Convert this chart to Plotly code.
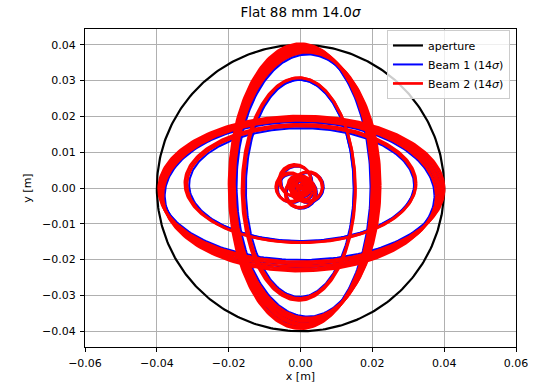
import numpy as np
import plotly.graph_objects as go

# Aperture radius [m]
aperture_radius = 0.04

# Beam envelopes at 14 sigma, one ellipse per row: (x centre, y centre, half-width, half-height) [m]
beam2_ellipses = [
    # large horizontal envelope
    (0.00025, -0.00025, 0.03975, 0.02035),
    (0.00015, -0.0007, 0.0393, 0.0205),
    (0.0000, -0.0012, 0.0389, 0.0207),
    (-0.0001, -0.0017, 0.0385, 0.0209),
    (-0.00025, -0.00215, 0.03805, 0.02105),
    # inner horizontal envelope
    (0.0000, 0.0013, 0.0322, 0.0165),
    (0.0002, 0.0010, 0.0318, 0.0163),
    # large vertical envelope
    (0.0000, 0.0005, 0.0199, 0.0398),
    (0.0003, 0.0005, 0.0200, 0.0394),
    (0.0007, 0.0006, 0.0200, 0.0389),
    (0.0010, 0.0006, 0.0201, 0.0385),
    (0.0013, 0.0007, 0.0202, 0.0380),
    (0.0016, 0.0007, 0.0203, 0.0376),
    (0.0019, 0.0008, 0.0203, 0.0371),
    # inner vertical envelope
    (-0.0005, -0.0003, 0.0158, 0.0311),
    (-0.0003, 0.0000, 0.0155, 0.0308),
    # small envelopes near the centre
    (-0.0016, 0.0022, 0.0044, 0.0044),
    (-0.0013, 0.0019, 0.0043, 0.0043),
    (0.0021, 0.0005, 0.0041, 0.0041),
    (0.0018, 0.0002, 0.0042, 0.0042),
    (-0.0002, -0.0015, 0.0041, 0.0041),
    (0.0001, -0.0012, 0.0042, 0.0042),
    (-0.0029, 0.0003, 0.0040, 0.0040),
    (-0.0026, 0.0000, 0.0040, 0.0040),
    (0.0000, 0.0000, 0.0020, 0.0020),
    (-0.0010, 0.0010, 0.0025, 0.0025),
    (0.0010, -0.0010, 0.0022, 0.0022),
    (0.0005, 0.0012, 0.0015, 0.0015),
    (-0.0008, -0.0012, 0.0018, 0.0018),
    (-0.0015, -0.0005, 0.0012, 0.0012),
    (0.0012, 0.0008, 0.0010, 0.0010),
    (0.0000, 0.0005, 0.0030, 0.0030),
]

beam1_ellipses = [
    (0.00025, -0.00025, 0.03925, 0.01985),
    (0.00015, -0.0007, 0.0388, 0.0200),
    (0.0000, -0.0012, 0.0384, 0.0202),
    (-0.0001, -0.0017, 0.0380, 0.0204),
    (-0.00025, -0.00215, 0.03755, 0.02055),
    (0.0001, 0.0012, 0.0317, 0.0160),
    (0.0003, 0.0009, 0.0313, 0.0158),
    (0.0001, 0.0004, 0.0194, 0.0393),
    (0.0004, 0.0004, 0.0195, 0.0389),
    (0.0008, 0.0005, 0.0195, 0.0384),
    (0.0011, 0.0005, 0.0196, 0.0380),
    (0.0014, 0.0006, 0.0197, 0.0375),
    (0.0017, 0.0006, 0.0198, 0.0371),
    (0.0020, 0.0007, 0.0198, 0.0366),
    (-0.0004, -0.0004, 0.0153, 0.0306),
    (-0.0002, -0.0001, 0.0150, 0.0303),
    (-0.0013, 0.0020, 0.0044, 0.0044),
    (-0.0010, 0.0017, 0.0043, 0.0043),
    (0.0024, 0.0003, 0.0041, 0.0041),
    (0.0021, 0.0000, 0.0042, 0.0042),
    (0.0001, -0.0017, 0.0041, 0.0041),
    (0.0004, -0.0014, 0.0042, 0.0042),
    (-0.0026, 0.0001, 0.0040, 0.0040),
    (-0.0023, -0.0002, 0.0040, 0.0040),
    (0.0003, -0.0002, 0.0020, 0.0020),
    (-0.0007, 0.0008, 0.0025, 0.0025),
    (0.0013, -0.0012, 0.0022, 0.0022),
    (0.0008, 0.0010, 0.0015, 0.0015),
    (-0.0005, -0.0014, 0.0018, 0.0018),
    (-0.0012, -0.0007, 0.0012, 0.0012),
    (0.0015, 0.0006, 0.0010, 0.0010),
    (0.0003, 0.0003, 0.0030, 0.0030),
]

x_ticks = [-0.06, -0.04, -0.02, 0.0, 0.02, 0.04, 0.06]
y_ticks = [-0.04, -0.03, -0.02, -0.01, 0.0, 0.01, 0.02, 0.03, 0.04]


def tick_text(values):
    return [f"{v:.2f}".replace("-", "\u2212") for v in values]


def ellipse_path(ellipses, n=240):
    t = np.linspace(0, 2 * np.pi, n)
    xs, ys = [], []
    for cx, cy, a, b in ellipses:
        xs += list(cx + a * np.cos(t)) + [None]
        ys += list(cy + b * np.sin(t)) + [None]
    return xs, ys


FONT = "DejaVu Sans"

fig = go.Figure()

tt = np.linspace(0, 2 * np.pi, 361)
fig.add_trace(go.Scatter(
    x=aperture_radius * np.cos(tt), y=aperture_radius * np.sin(tt),
    mode="lines", line=dict(color="black", width=2.2), name="aperture",
))

bx, by = ellipse_path(beam1_ellipses)
fig.add_trace(go.Scatter(
    x=bx, y=by, mode="lines", line=dict(color="blue", width=2),
    name="Beam 1 (14<i>σ</i>)", connectgaps=False,
))

rx, ry = ellipse_path(beam2_ellipses)
fig.add_trace(go.Scatter(
    x=rx, y=ry, mode="lines", line=dict(color="red", width=2.7),
    name="Beam 2 (14<i>σ</i>)", connectgaps=False,
))

axis_common = dict(
    showgrid=True, gridcolor="#b0b0b0", gridwidth=0.8,
    showline=True, linecolor="black", linewidth=1, mirror=True,
    ticks="outside", ticklen=4, tickcolor="black", tickwidth=1,
    zeroline=False, automargin=False,
    tickfont=dict(family=FONT, size=11, color="black"),
)

fig.update_layout(
    width=540, height=385,
    margin=dict(l=85, r=24, t=29, b=38),
    paper_bgcolor="white", plot_bgcolor="white",
    font=dict(family=FONT, size=11, color="black"),
    title=dict(
        text="Flat 88 mm 14.0<i>σ</i>",
        x=(85 + 431 / 2) / 540, xanchor="center",
        y=1 - 12 / 385, yanchor="middle", yref="container",
        font=dict(family=FONT, size=13.5, color="black"),
    ),
    xaxis=dict(
        range=[-0.06, 0.06], tickvals=x_ticks, ticktext=tick_text(x_ticks),
        ticklabelstandoff=2,
        title=dict(text="x [m]", font=dict(family=FONT, size=11), standoff=3),
        **axis_common,
    ),
    yaxis=dict(
        range=[-0.0444, 0.0444], tickvals=y_ticks, ticktext=tick_text(y_ticks),
        ticklabelstandoff=2,
        title=dict(text="y [m]", font=dict(family=FONT, size=11), standoff=8),
        **axis_common,
    ),
    legend=dict(
        x=0.986, y=0.997, xanchor="right", yanchor="top",
        bgcolor="rgba(255,255,255,0.8)", bordercolor="#cccccc", borderwidth=1,
        font=dict(family=FONT, size=11, color="black"),
        tracegroupgap=0, itemwidth=30,
    ),
    showlegend=True,
)

fig.write_html("out.html")
